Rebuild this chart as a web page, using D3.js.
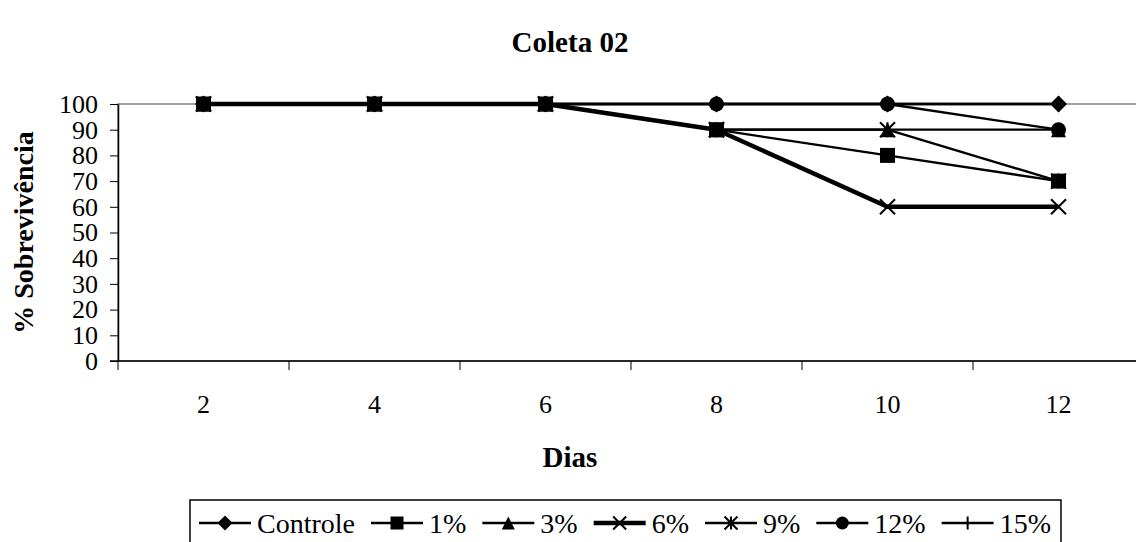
<!DOCTYPE html>
<html>
<head>
<meta charset="utf-8">
<script src="https://cdn.jsdelivr.net/npm/d3@7"></script>
<style>
  html, body { margin: 0; padding: 0; background: #fff; }
  svg { display: block; }
  svg text { font-family: "Liberation Serif", "Times New Roman", Times, serif; }
</style>
</head>
<body>
<svg id="chart" width="1136" height="542"></svg>
<script>
const days = ["2", "4", "6", "8", "10", "12"];
const yTicks = [0, 10, 20, 30, 40, 50, 60, 70, 80, 90, 100];

const controle = [100, 100, 100, 100, 100, 100];
const pct1 = [100, 100, 100, 90, 80, 70];
const pct3 = [100, 100, 100, 90, 90, 90];
const pct6 = [100, 100, 100, 90, 60, 60];
const pct9 = [100, 100, 100, 90, 90, 70];
const pct12 = [100, 100, 100, 100, 100, 90];
const pct15 = [100, 100, 100, 100, 100, 100];

const seriesNames = ["Controle", "1%", "3%", "6%", "9%", "12%", "15%"];
const seriesValues = [controle, pct1, pct3, pct6, pct9, pct12, pct15];
const seriesMarkers = ["diamond", "square", "triangle", "x", "star", "circle", "plus"];
const seriesWidths = [2.3, 2.3, 2.3, 4.5, 2.3, 2.3, 2.3];

const SERIF = "'Liberation Serif', 'Times New Roman', Times, serif";
const W = 1136;
const plot = { left: 118, right: 1144, top: 104, bottom: 361 };

const svg = d3.select("#chart");

const x = d3.scaleBand().domain(days).range([plot.left, plot.right]);
const y = d3.scaleLinear().domain([0, 100]).range([plot.bottom, plot.top]);

function serif(sel, size, bold) {
  return sel.style("font-family", SERIF)
    .style("font-size", size + "px")
    .style("font-weight", bold ? "bold" : "normal")
    .attr("fill", "#000");
}

// plot area border
svg.append("rect")
  .attr("x", plot.left).attr("y", plot.top)
  .attr("width", plot.right - plot.left).attr("height", plot.bottom - plot.top)
  .attr("fill", "none").attr("stroke", "#808080").attr("stroke-width", 1.5);

// y axis
const yAxis = d3.axisLeft(y).tickValues(yTicks).tickSizeInner(8).tickSizeOuter(0).tickPadding(12);
const yg = svg.append("g").attr("transform", `translate(${plot.left},0)`).call(yAxis);
yg.attr("font-family", null).attr("font-size", null);
yg.select(".domain").attr("stroke", "#000").attr("stroke-width", 1.5);
yg.selectAll(".tick line").attr("stroke", "#000").attr("stroke-width", 1);
serif(yg.selectAll(".tick text"), 26, false);

// x axis: ticks between categories
const xg = svg.append("g").attr("transform", `translate(0,${plot.bottom})`);
xg.append("line")
  .attr("x1", plot.left - 8).attr("x2", W)
  .attr("stroke", "#000").attr("stroke-width", 1.5);
const bounds = days.map((d) => x(d)).concat([plot.right]);
xg.selectAll("line.tk").data(bounds).join("line")
  .attr("class", "tk")
  .attr("x1", (d) => d).attr("x2", (d) => d)
  .attr("y1", 0).attr("y2", 9)
  .attr("stroke", "#000").attr("stroke-width", 1);
serif(xg.selectAll("text").data(days).join("text"), 26, false)
  .attr("x", (d) => x(d) + x.bandwidth() / 2)
  .attr("y", 52)
  .attr("text-anchor", "middle")
  .text((d) => d);

function drawMarker(g, type, cx, cy, s) {
  const h = s / 2;
  if (type === "diamond") {
    g.append("path").attr("d", `M${cx},${cy - h - 1}L${cx + h + 1},${cy}L${cx},${cy + h + 1}L${cx - h - 1},${cy}Z`).attr("fill", "#000");
  } else if (type === "square") {
    g.append("rect").attr("x", cx - h).attr("y", cy - h).attr("width", s).attr("height", s).attr("fill", "#000");
  } else if (type === "triangle") {
    g.append("path").attr("d", `M${cx},${cy - h}L${cx + h},${cy + h}L${cx - h},${cy + h}Z`).attr("fill", "#000");
  } else if (type === "circle") {
    g.append("circle").attr("cx", cx).attr("cy", cy).attr("r", h).attr("fill", "#000");
  } else if (type === "x") {
    g.append("path").attr("d", `M${cx - h},${cy - h}L${cx + h},${cy + h}M${cx - h},${cy + h}L${cx + h},${cy - h}`)
      .attr("stroke", "#000").attr("stroke-width", 2);
  } else if (type === "star") {
    g.append("path").attr("d", `M${cx - h},${cy - h}L${cx + h},${cy + h}M${cx - h},${cy + h}L${cx + h},${cy - h}M${cx},${cy - h}L${cx},${cy + h}`)
      .attr("stroke", "#000").attr("stroke-width", 2);
  } else if (type === "plus") {
    g.append("path").attr("d", `M${cx - h},${cy}L${cx + h},${cy}M${cx},${cy - h}L${cx},${cy + h}`)
      .attr("stroke", "#000").attr("stroke-width", 2);
  }
}

const line = d3.line()
  .x((d, i) => x(days[i]) + x.bandwidth() / 2)
  .y((d) => y(d));

seriesValues.forEach((vals, si) => {
  const g = svg.append("g");
  g.append("path").datum(vals)
    .attr("d", line)
    .attr("fill", "none")
    .attr("stroke", "#000")
    .attr("stroke-width", seriesWidths[si])
    .attr("stroke-linejoin", "round");
  vals.forEach((v, i) => {
    drawMarker(g, seriesMarkers[si], x(days[i]) + x.bandwidth() / 2, y(v), 15);
  });
});

// titles
serif(svg.append("text"), 29, true).attr("x", 570).attr("y", 52)
  .attr("text-anchor", "middle").text("Coleta 02");
serif(svg.append("text"), 29, true).attr("x", 570).attr("y", 467)
  .attr("text-anchor", "middle").text("Dias");
serif(svg.append("text"), 28, true)
  .attr("transform", `translate(33,${(plot.top + plot.bottom) / 2}) rotate(-90)`)
  .attr("text-anchor", "middle").text("% Sobrevivência");

// legend
const legend = svg.append("g");
const lineLen = 52, gapIn = 6, gapOut = 16;
let lx = 199;
const ly = 523;
seriesNames.forEach((name, si) => {
  const g = legend.append("g");
  g.append("line").attr("x1", lx).attr("x2", lx + lineLen).attr("y1", ly).attr("y2", ly)
    .attr("stroke", "#000").attr("stroke-width", seriesWidths[si]);
  drawMarker(g, seriesMarkers[si], lx + lineLen / 2, ly, 13);
  const t = serif(g.append("text"), 28, false)
    .attr("x", lx + lineLen + gapIn).attr("y", ly + 10).text(name);
  lx += lineLen + gapIn + t.node().getComputedTextLength() + gapOut;
});
legend.insert("rect", ":first-child")
  .attr("x", 190).attr("y", 500)
  .attr("width", lx - 190 - gapOut + 10).attr("height", 46)
  .attr("fill", "#fff").attr("stroke", "#000").attr("stroke-width", 1.5);
</script>
</body>
</html>
